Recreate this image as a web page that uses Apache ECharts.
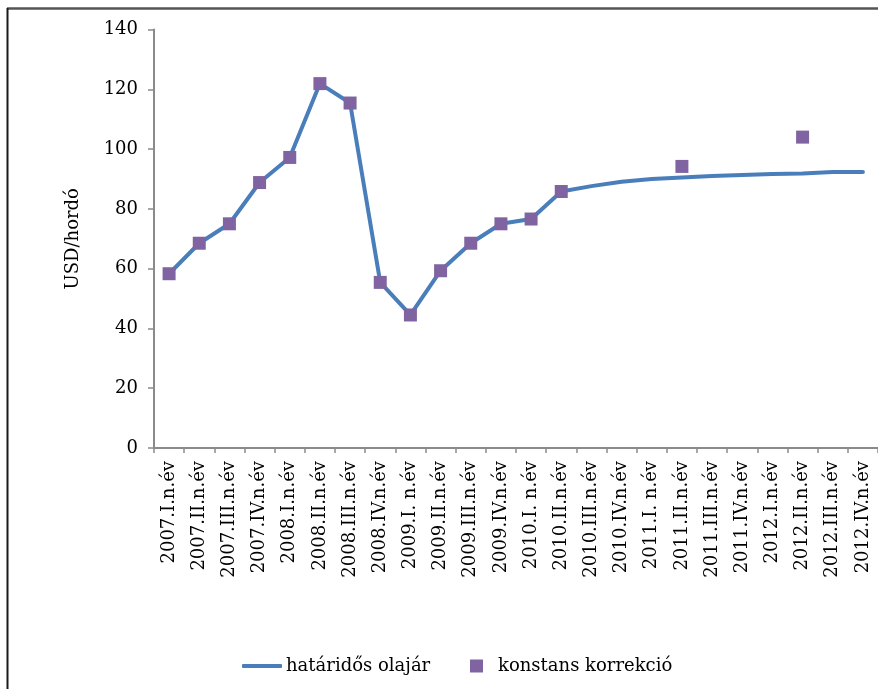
<!DOCTYPE html>
<html>
<head>
<meta charset="utf-8">
<script src="https://cdn.jsdelivr.net/npm/echarts@6/dist/echarts.min.js"></script>
<style>
  html, body { margin: 0; padding: 0; background: #ffffff; }
  #chart { width: 878px; height: 689px; }
</style>
</head>
<body>
<div id="chart"></div>
<script>
// Quarterly categories
const categories = [
  '2007.I.n.év', '2007.II.n.év', '2007.III.n.év', '2007.IV.n.év',
  '2008.I.n.év', '2008.II.n.év', '2008.III.n.év', '2008.IV.n.év',
  '2009.I. n.év', '2009.II.n.év', '2009.III.n.év', '2009.IV.n.év',
  '2010.I. n.év', '2010.II.n.év', '2010.III.n.év', '2010.IV.n.év',
  '2011.I. n.év', '2011.II.n.év', '2011.III.n.év', '2011.IV.n.év',
  '2012.I.n.év', '2012.II.n.év', '2012.III.n.év', '2012.IV.n.év'
];

// Futures oil price path (USD/barrel)
const futuresPrice = [
  58.3, 68.5, 75.0, 88.8, 97.2, 121.9, 115.4, 55.4,
  44.5, 59.3, 68.5, 75.0, 76.6, 85.8, 87.6, 89.1,
  90.0, 90.5, 91.0, 91.3, 91.7, 91.8, 92.3, 92.3
];

// Constant-correction points (null where not plotted)
const constantCorrection = [
  58.3, 68.5, 75.0, 88.8, 97.2, 121.9, 115.4, 55.4,
  44.5, 59.3, 68.5, 75.0, 76.6, 85.8, null, null,
  null, 94.2, null, null, null, 104.0, null, null
];

const yTicks = { min: 0, max: 140, interval: 20 };

const seriesNames = ['határidős olajár', 'konstans korrekció'];

const FONT = 'DejaVu Serif';
const AXIS_COLOR = '#8a8a8a';
const LINE_COLOR = '#4a7ebb';
const MARK_COLOR = '#8064a2';

const chart = echarts.init(document.getElementById('chart'), null, { renderer: 'canvas' });

chart.setOption({
  animation: false,
  backgroundColor: '#ffffff',
  textStyle: { fontFamily: FONT, color: '#000000' },
  graphic: [
    // frame: top and left edges
    { type: 'line', shape: { x1: 7, y1: 8.5, x2: 878, y2: 8.5 },
      style: { stroke: '#555555', lineWidth: 2.5 }, silent: true },
    { type: 'line', shape: { x1: 7.5, y1: 8, x2: 7.5, y2: 689 },
      style: { stroke: '#1a1a1a', lineWidth: 2 }, silent: true }
  ],
  grid: { left: 154, top: 29.5, right: -2, bottom: 241, containLabel: false },
  legend: [
    {
      data: [{ name: seriesNames[0], icon: 'roundRect' }],
      left: 237, top: 652,
      itemWidth: 40, itemHeight: 4,
      itemStyle: { color: LINE_COLOR },
      textStyle: { fontFamily: FONT, fontSize: 18, color: '#000000', padding: [0, 0, 0, -1] }
    },
    {
      data: [{ name: seriesNames[1], icon: 'rect' }],
      left: 465, top: 652,
      itemWidth: 13, itemHeight: 13,
      textStyle: { fontFamily: FONT, fontSize: 18, color: '#000000', padding: [0, 0, 0, 10] }
    }
  ],
  xAxis: {
    type: 'category',
    data: categories,
    boundaryGap: true,
    axisLine: { show: true, lineStyle: { color: AXIS_COLOR, width: 2 } },
    axisTick: { show: true, alignWithLabel: false, length: 5, lineStyle: { color: AXIS_COLOR, width: 1.5 } },
    axisLabel: {
      interval: 0, rotate: 90, margin: 13,
      fontFamily: FONT, fontSize: 18, color: '#000000'
    },
    splitLine: { show: false }
  },
  yAxis: {
    type: 'value',
    min: yTicks.min, max: yTicks.max, interval: yTicks.interval,
    name: 'USD/hordó',
    nameLocation: 'middle',
    nameRotate: 90,
    nameGap: 72,
    nameTextStyle: { fontFamily: FONT, fontSize: 18, color: '#000000' },
    axisLine: { show: true, lineStyle: { color: AXIS_COLOR, width: 2 } },
    axisTick: { show: true, length: 6, lineStyle: { color: AXIS_COLOR, width: 1.5 } },
    axisLabel: { margin: 16, fontFamily: FONT, fontSize: 18, color: '#000000' },
    splitLine: { show: false }
  },
  series: [
    {
      name: seriesNames[0],
      type: 'line',
      data: futuresPrice,
      symbol: 'none',
      smooth: false,
      lineStyle: { color: LINE_COLOR, width: 4, cap: 'round', join: 'round' },
      itemStyle: { color: LINE_COLOR },
      z: 2
    },
    {
      name: seriesNames[1],
      type: 'scatter',
      data: constantCorrection,
      symbol: 'rect',
      symbolSize: 13,
      itemStyle: { color: MARK_COLOR, opacity: 1 },
      z: 3
    }
  ]
});
</script>
</body>
</html>
